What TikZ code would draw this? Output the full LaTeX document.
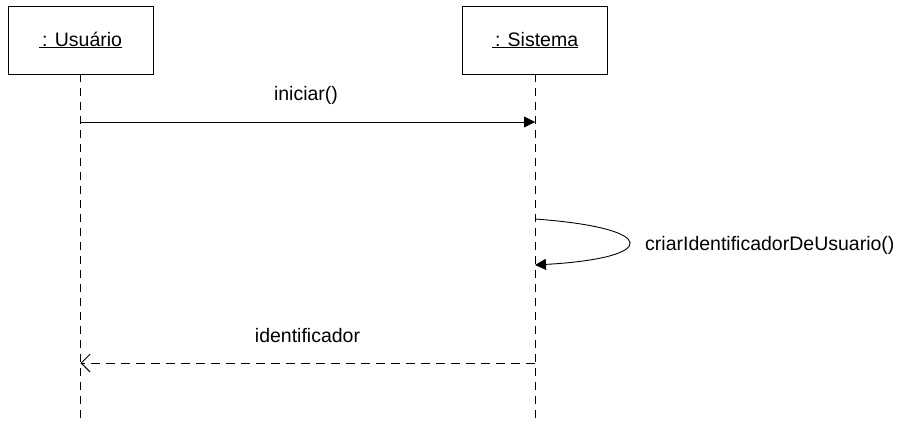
\documentclass[tikz,border=0pt]{standalone}
\usepackage{fontspec}
\setmainfont{Liberation Sans}
\usetikzlibrary{arrows.meta}
\begin{document}
\begin{tikzpicture}[x=1pt,y=-1pt,
  font=\fontsize{19.5}{23}\selectfont,
  objbox/.style={draw,line width=0.9pt,minimum width=145pt,minimum height=68pt,inner sep=0pt},
  lifeline/.style={line width=0.9pt,dash pattern=on 8pt off 6pt},
  syncmsg/.style={line width=0.9pt,-{Triangle[length=11pt,width=11pt]}},
  replymsg/.style={line width=0.9pt,dash pattern=on 9pt off 6pt,-{Straight Barb[length=9pt,width=18pt,line width=0.9pt]}},
  msglabel/.style={anchor=base,inner sep=0pt}]
\useasboundingbox (0,0) rectangle (920,423);
% object boxes
\node[objbox] (user) at (80.5,40) {};
\node[objbox] (sys) at (535,40) {};
\node[msglabel] (userlbl) at (80.5,46) {\underline{\,: Usuário}};
\node[msglabel] (syslbl) at (535,46) {\underline{\,: Sistema}};
% lifelines
\coordinate (userEnd) at (80.5,423);
\coordinate (sysEnd) at (535,423);
\draw[lifeline] (user.south) -- (userEnd);
\draw[lifeline] (sys.south) -- (sysEnd);
% iniciar()
\coordinate (m1a) at (80.5,122);
\coordinate (m1b) at (535,122);
\draw[syncmsg] (m1a) -- (m1b);
\node[msglabel] (m1lbl) at (306,100) {iniciar()};
% self call
\coordinate (s1a) at (535,219);
\coordinate (s1b) at (535,265);
\draw[syncmsg] (s1a) .. controls (660,228) and (660,258) .. (s1b);
\node[msglabel,anchor=base west] (selflbl) at (645,250) {criarIdentificadorDeUsuario()};
% reply
\coordinate (r1a) at (535,363);
\coordinate (r1b) at (80.5,363);
\draw[replymsg] (r1a) -- (r1b);
\node[msglabel] (r1lbl) at (307.5,342) {identificador};
\end{tikzpicture}
\end{document}
